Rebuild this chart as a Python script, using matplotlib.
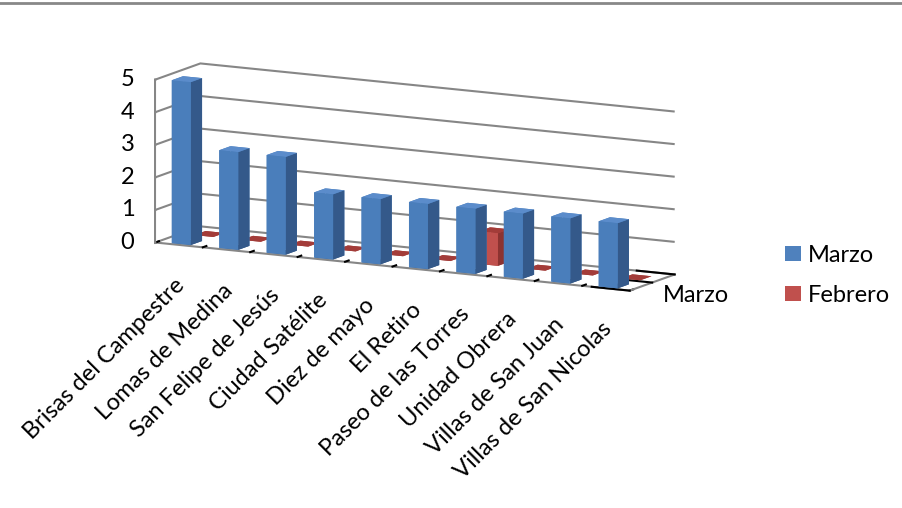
import numpy as np
import matplotlib
matplotlib.use('Agg')
import matplotlib.pyplot as plt
from matplotlib.patches import Patch
from matplotlib.lines import Line2D
from mpl_toolkits.mplot3d import proj3d

categories = ["Brisas del Campestre", "Lomas de Medina", "San Felipe de Jesús",
              "Ciudad Satélite", "Diez de mayo", "El Retiro", "Paseo de las Torres",
              "Unidad Obrera", "Villas de San Juan", "Villas de San Nicolas"]
marzo = [5, 3, 3, 2, 2, 2, 2, 2, 2, 2]
febrero = [0, 0, 0, 0, 0, 0, 1, 0, 0, 0]
series_names = ["Marzo", "Febrero"]
z_ticks = [0, 1, 2, 3, 4, 5]

plt.rcParams['font.family'] = ['Lato', 'DejaVu Sans']
FS = 17
GRID = '#868686'

# face colours: -z, +z, -y, +y, -x, +x
blue_faces = ['#2F5380', '#5B8CCB', '#4A7EBB', '#4A7EBB', '#4A7EBB', '#34598A']
red_faces = ['#A33C39', '#A33C39', '#C0504D', '#C0504D', '#C0504D', '#8C3331']

fig = plt.figure(figsize=(9.03, 5.08), dpi=100)
ax = fig.add_axes([0.052, 0.138, 0.8, 1.0], projection='3d')
ax.set_proj_type('ortho')

n = len(categories)
xi = np.arange(n)
bw = 0.4
bd = 0.5
ycen = 0.35
series = [marzo, febrero]
xs, ys, dzs, cols = [], [], [], []
for s, vals in enumerate(series):
    faces = blue_faces if s == 0 else red_faces
    for i, v in enumerate(vals):
        xs.append(xi[i] - bw / 2)
        ys.append(s + ycen - bd / 2)
        dzs.append(v)
        cols.extend(faces)

ax.bar3d(xs, ys, np.zeros(len(xs)), bw, bd, dzs, color=cols, shade=False,
         edgecolor='none')

x0, x1 = -0.5, n - 0.5
ax.set_xlim(x0, x1)
ax.set_ylim(0, len(series))
ax.set_zlim(0, 5)
ax.set_box_aspect((5.6, 1.0, 1.73), zoom=1.09)
ax.view_init(elev=11, azim=-62)

# tick marks at category / series boundaries; labels drawn separately
ax.set_xticks(np.arange(n + 1) - 0.5)
ax.set_xticklabels([''] * (n + 1))
ax.set_yticks(np.arange(len(series) + 1))
ax.set_yticklabels([''] * (len(series) + 1))
ax.set_zticks(z_ticks)
ax.set_zticklabels([''] * len(z_ticks))
for a in (ax.xaxis, ax.yaxis, ax.zaxis):
    for tk in a.get_major_ticks():
        tk.label1.set_visible(False)
        tk.label2.set_visible(False)

for a in (ax.xaxis, ax.yaxis, ax.zaxis):
    a.set_pane_color((1, 1, 1, 0))
    a.pane.set_edgecolor('none')
    a.line.set_color(GRID)
    a.line.set_linewidth(1.5)
    a._axinfo['tick']['color'] = GRID
    a._axinfo['tick']['linewidth'] = {True: 1.5, False: 1.0}
    a._axinfo['tick']['inward_factor'] = 0.0
    a._axinfo['tick']['outward_factor'] = 1.0
ax.zaxis.line.set_color((1, 1, 1, 0))
ax.zaxis._axinfo['tick']['outward_factor'] = 0.0
ax.zaxis._axinfo['tick']['color'] = (1, 1, 1, 0)
ax.xaxis._axinfo['grid']['linewidth'] = 0
ax.yaxis._axinfo['grid']['linewidth'] = 0
ax.zaxis._axinfo['grid']['color'] = GRID
ax.zaxis._axinfo['grid']['linewidth'] = 1.5

# vertical value axis at the front-left edge
ax.plot([x0, x0], [0, 0], [0, 5], color=GRID, lw=1.5)
for t in z_ticks:
    ax.plot([x0 - 0.15, x0], [0, 0], [t, t], color=GRID, lw=1.5)

fig.canvas.draw()
M = ax.get_proj()


def proj(x, y, z):
    px, py, _ = proj3d.proj_transform(x, y, z, M)
    return px, py


for t in z_ticks:
    ax.annotate(str(t), xy=proj(x0, 0, t), xycoords='data',
                xytext=(-21, 0), textcoords='offset pixels',
                ha='right', va='center', fontsize=FS, color='black',
                annotation_clip=False)

for i, lab in enumerate(categories):
    ax.annotate(lab, xy=proj(xi[i], 0, 0), xycoords='data',
                xytext=(-5, -30), textcoords='offset pixels',
                rotation=45, ha='right', va='top', rotation_mode='anchor',
                fontsize=FS, color='black', annotation_clip=False)

ax.annotate(series_names[0], xy=proj(x1, 0.5, 0), xycoords='data',
            xytext=(22, -9), textcoords='offset pixels',
            ha='left', va='center', fontsize=FS, color='black',
            annotation_clip=False)

handles = [Patch(facecolor='#4F81BD', label=series_names[0]),
           Patch(facecolor='#C0504D', label=series_names[1])]
fig.legend(handles=handles, loc='center left', bbox_to_anchor=(0.846, 0.458),
           frameon=False, fontsize=FS, handlelength=0.65, handleheight=0.65,
           handletextpad=0.3, labelspacing=0.8)

fig.add_artist(Line2D([0, 1], [0.995, 0.995], color='#888888', lw=2,
                      transform=fig.transFigure))

fig.savefig('out.png', dpi=100)
